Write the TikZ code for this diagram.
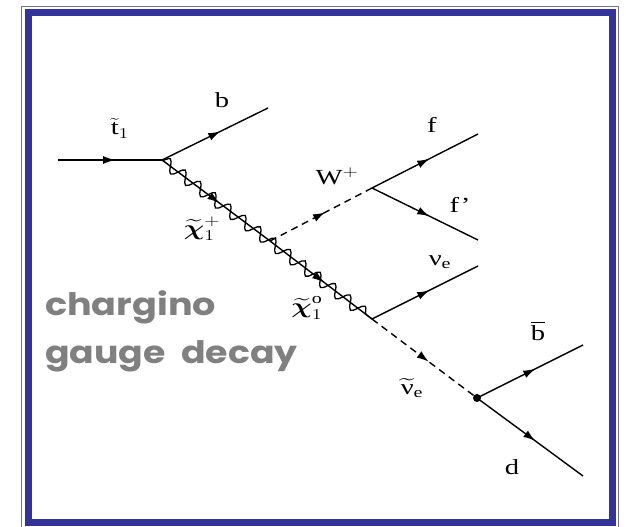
\RequirePackage{fix-cm}
\documentclass[tikz,border=0pt]{standalone}
\usepackage{amsmath}
\usepackage{graphicx}
\usepackage{fontspec}
\setmainfont{Liberation Serif}
\newfontfamily\comicfont{Poppins}
\usetikzlibrary{decorations.pathmorphing,decorations.markings,arrows.meta}
\definecolor{frameblue}{RGB}{51,51,153}
\definecolor{thinblue}{RGB}{110,110,180}
\definecolor{labelgrey}{RGB}{128,128,128}
\newcommand{\xlab}[1]{\scalebox{1.33}[1]{#1}}
\tikzset{
  fermion/.style={line width=1.4pt, postaction={decorate},
    decoration={markings, mark=at position #1 with {\arrow{Latex[length=12pt,width=8pt]}}}},
  fermion/.default=0.55,
  scalar/.style={fermion=#1, dash pattern=on 7pt off 5pt},
  scalar/.default=0.55,
  gaugewave/.style={line width=1.3pt, decorate,
    decoration={snake, segment length=18.8pt, amplitude=6pt}},
  lbl/.style={inner sep=0pt, font=\fontsize{21.5}{26}\selectfont},
  title/.style={anchor=base west, inner sep=0pt, text=labelgrey,
    font=\comicfont\bfseries\fontsize{31}{40}\selectfont},
  vdot/.style={circle, fill=black, inner sep=0pt, minimum size=8pt}
}
\begin{document}
\begin{tikzpicture}[x=1pt,y=-1pt]
\useasboundingbox (0,0) rectangle (626,527);
% frame
\draw[thinblue, line width=1.3pt] (21.5,6.5) rectangle (618.5,528.5);
\draw[frameblue, line width=7pt] (28.5,12.5) rectangle (612.5,522.5);
% vertices and end points
\coordinate (tin) at (58,160);
\coordinate (v1) at (162,160);
\coordinate (bout) at (268,108);
\coordinate (v2) at (270,241);
\coordinate (vw) at (372,188);
\coordinate (fout) at (478,134);
\coordinate (fpout) at (478,240);
\coordinate (v3) at (372,319);
\coordinate (nuout) at (478,266);
\node[vdot] (v4) at (477,398) {};
\coordinate (bbout) at (583,345);
\coordinate (dout) at (583,476);
% lines
\draw[fermion] (tin) -- (v1);
\draw[fermion] (v1) -- (bout);
\draw[fermion=0.53] (v1) -- (v2);
\draw[fermion=0.53] (v2) -- (v3);
\draw[gaugewave] (v1) -- (v3);
\draw[scalar=0.54] (v2) -- (vw);
\draw[fermion=0.54] (vw) -- (fout);
\draw[fermion=0.54] (vw) -- (fpout);
\draw[fermion=0.54] (v3) -- (nuout);
\draw[scalar=0.54] (v3) -- (v4.center);
\draw[fermion] (v4.center) -- (bbout);
\draw[fermion] (v4.center) -- (dout);
% labels
\node[lbl] (lt) at (120,128) {\xlab{$\tilde{\text{t}}_{1}$}};
\node[lbl] (lb) at (222,100) {\xlab{b}};
\node[lbl] (lc) at (202,229) {\xlab{$\widetilde{\boldsymbol{\chi}}^{+}_{1}$}};
\node[lbl] (lw) at (337,176) {\xlab{W$^{+}$}};
\node[lbl] (ln) at (307,308) {\xlab{$\widetilde{\boldsymbol{\chi}}^{\mathrm{o}}_{1}$}};
\node[lbl] (lf) at (432,125) {\xlab{f}};
\node[lbl] (lfp) at (460,205) {\xlab{f’}};
\node[lbl] (lnu) at (440,262) {\xlab{$\text{ν}_{\mathrm{e}}$}};
\node[lbl] (lbb) at (538,331) {\xlab{$\overline{\text{b}}$}};
\node[lbl] (lsn) at (412,388) {\xlab{$\widetilde{\text{ν}}_{\mathrm{e}}$}};
\node[lbl] (ld) at (512,467) {\xlab{d}};
% title
\node[title] (t1) at (45,315) {\scalebox{1.18}[1]{chargino}};
\node[title] (t2) at (45,363) {\scalebox{1.17}[1]{gauge\ \ decay}};
\end{tikzpicture}
\end{document}
